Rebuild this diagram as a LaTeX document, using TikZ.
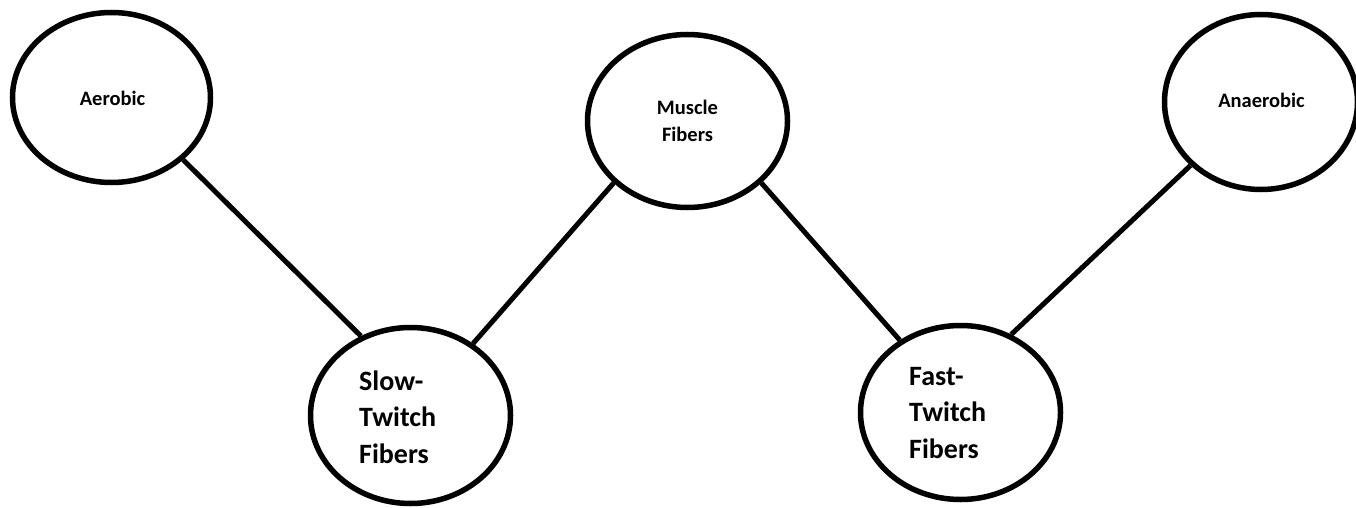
\documentclass[tikz,border=0pt]{standalone}
\usepackage{fontspec}
\setmainfont{Carlito}
\usetikzlibrary{shapes.geometric}
\begin{document}
\begin{tikzpicture}[x=1pt,y=-1pt,
  bubble/.style={draw=black, line width=5.5pt, ellipse, inner sep=0pt},
  link/.style={draw=black, line width=5pt},
  smalltxt/.style={font=\bfseries\fontsize{20.5}{26.5}\selectfont, align=center, inner sep=0pt},
  bigtxt/.style={font=\bfseries\fontsize{28}{36.5}\selectfont, align=left, inner sep=0pt}]
\useasboundingbox (0,0) rectangle (1356,508);
\node[bubble, minimum width=198pt, minimum height=170pt] (aer) at (111.5,97.5) {};
\node[bubble, minimum width=200pt, minimum height=173pt] (mus) at (687.5,121) {};
\node[bubble, minimum width=193pt, minimum height=175pt] (ana) at (1261,102) {};
\node[bubble, minimum width=200pt, minimum height=176pt] (slow) at (410.5,415.5) {};
\node[bubble, minimum width=200pt, minimum height=174pt] (fast) at (960.5,412.5) {};
\node[smalltxt, anchor=base] (taer) at (112.5,106) {Aerobic};
\node[smalltxt, anchor=base] (tmus) at (687.5,141) {Muscle\\Fibers};
\node[smalltxt, anchor=base] (tana) at (1261.5,108) {Anaerobic};
\node[bigtxt, anchor=base west] (tslow) at (359,463) {Slow-\\Twitch\\Fibers};
\node[bigtxt, anchor=base west] (tfast) at (909,458) {Fast-\\Twitch\\Fibers};
\draw[link] (aer.-41) -- (slow.122);
\draw[link] (slow.49) -- (mus.220);
\draw[link] (mus.-40) -- (fast.130);
\draw[link] (fast.57) -- (ana.-138);
\end{tikzpicture}
\end{document}
